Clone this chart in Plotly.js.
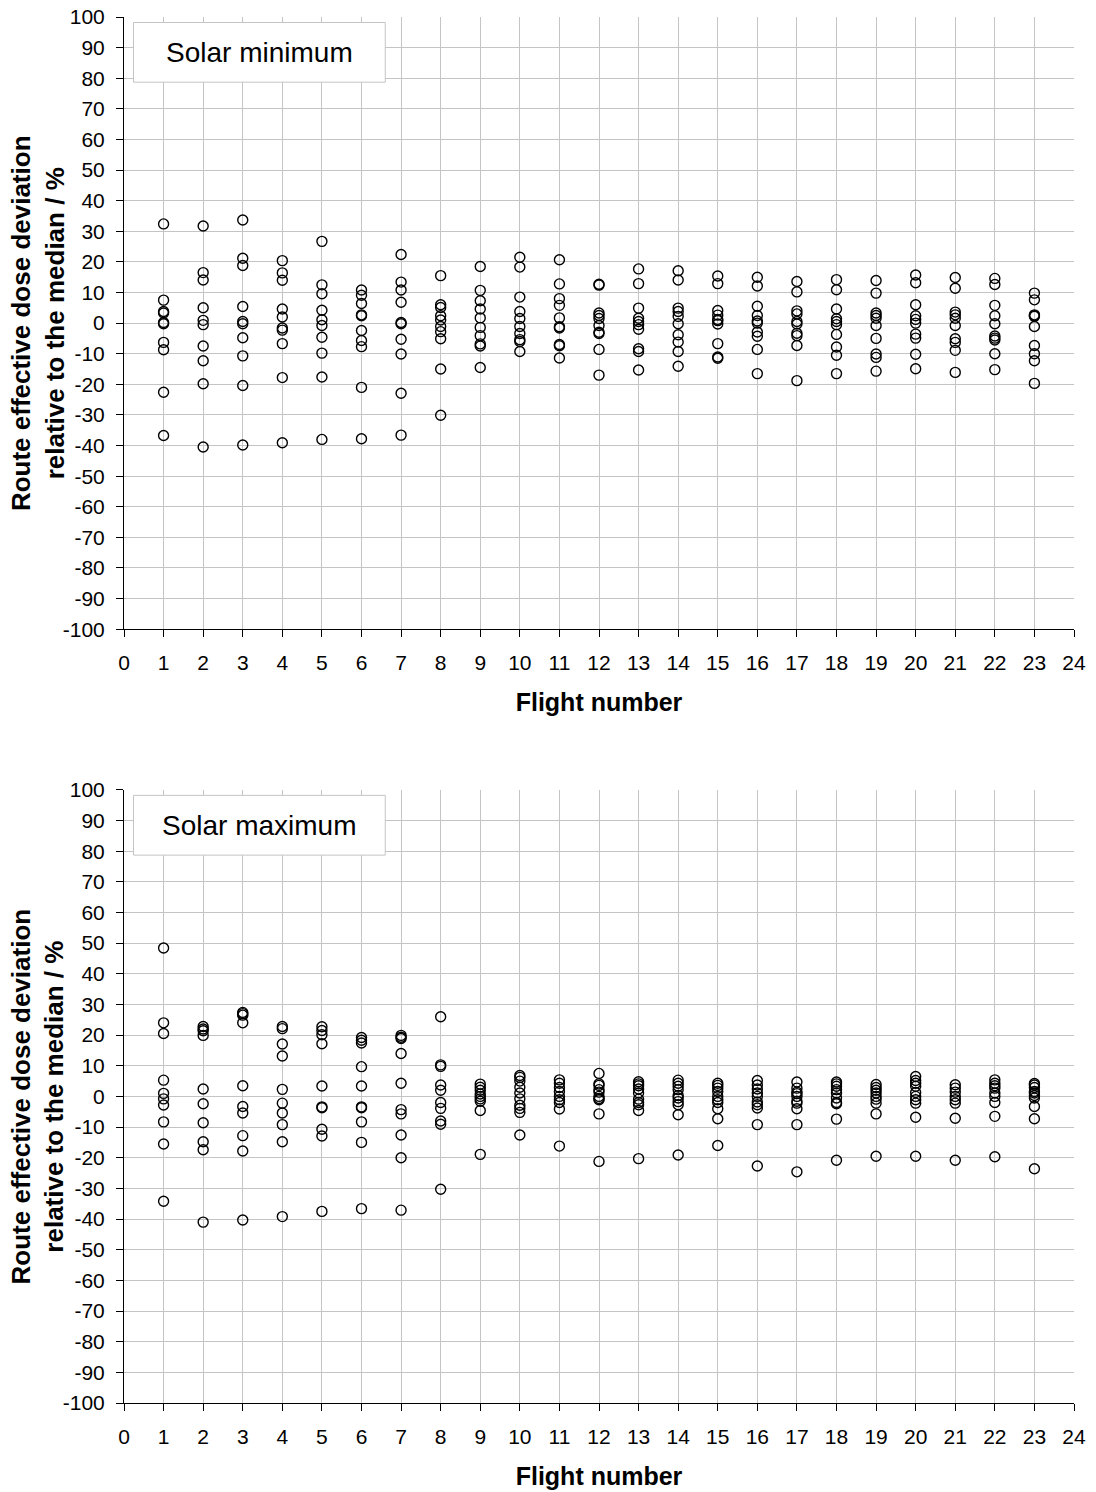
<!DOCTYPE html>
<html><head><meta charset="utf-8">
<script src="https://cdn.plot.ly/plotly-3.0.1.min.js"></script>
<style>html,body{margin:0;padding:0;background:#fff}#chart{width:1096px;height:1492px}</style>
</head><body><div id="chart"></div>
<script>
// Flight numbers
const flights = [1,2,3,4,5,6,7,8,9,10,11,12,13,14,15,16,17,18,19,20,21,22,23];

// Solar minimum: deviations (%) per flight
const solarMin = [
  [32.4, 7.5, 3.8, 3.3, 0.2, -0.2, -6.3, -8.7, -22.6, -36.7],
  [31.7, 16.5, 14.1, 5.0, 0.9, -0.5, -7.5, -12.3, -19.8, -40.5],
  [33.7, 21.2, 18.8, 5.4, 0.5, -0.2, -4.8, -10.7, -20.4, -39.8],
  [20.4, 16.4, 14.0, 4.6, 2.0, -1.6, -2.3, -6.7, -17.8, -39.1],
  [26.7, 12.5, 9.6, 4.2, 1.1, -0.8, -4.6, -9.8, -17.6, -38.0],
  [10.8, 9.1, 6.4, 2.7, 2.4, -2.4, -5.7, -7.7, -21.0, -37.8],
  [22.4, 13.4, 10.8, 6.8, 0.2, -0.2, -5.3, -10.1, -22.9, -36.6],
  [15.5, 6.0, 5.1, 2.4, 1.0, -1.1, -2.8, -5.1, -15.0, -30.1],
  [18.5, 10.7, 7.3, 4.6, 1.7, -1.4, -4.1, -6.8, -7.5, -14.5],
  [21.5, 18.3, 8.5, 3.8, 1.5, -1.1, -3.4, -5.4, -6.0, -9.3],
  [20.7, 12.8, 8.0, 5.8, 1.7, -1.2, -1.6, -7.0, -7.4, -11.4],
  [12.7, 12.4, 3.3, 2.5, 1.5, -0.8, -3.0, -3.4, -8.6, -17.0],
  [17.7, 12.9, 4.9, 1.6, 0.5, -0.5, -2.0, -8.4, -9.3, -15.3],
  [17.1, 14.1, 4.9, 3.8, 2.2, -0.2, -3.8, -6.2, -9.3, -14.1],
  [15.4, 12.9, 4.1, 2.6, 1.2, 0.8, -0.3, -6.7, -11.1, -11.5],
  [15.0, 12.1, 5.5, 2.5, 0.7, 0.0, -2.9, -4.3, -8.6, -16.5],
  [13.6, 10.2, 4.0, 3.0, 0.5, -0.3, -3.3, -4.1, -7.3, -18.8],
  [14.2, 10.9, 4.6, 1.4, 0.5, -0.5, -3.7, -7.8, -10.5, -16.5],
  [13.9, 9.8, 3.3, 2.5, 1.6, -0.8, -5.0, -10.1, -11.2, -15.7],
  [15.7, 13.2, 6.0, 2.4, 1.2, 0.0, -3.6, -4.9, -10.2, -14.9],
  [14.9, 11.4, 3.6, 2.7, 1.6, -0.8, -5.1, -6.3, -8.9, -16.1],
  [14.6, 12.6, 5.8, 2.4, -0.2, -4.2, -4.9, -5.5, -10.0, -15.2],
  [9.8, 7.6, 2.7, 2.4, 2.2, -1.1, -7.3, -10.0, -12.3, -19.7]
];

// Solar maximum: deviations (%) per flight
const solarMax = [
  [48.4, 24.0, 20.5, 5.3, 1.0, -0.8, -2.8, -8.3, -15.5, -34.2],
  [22.8, 22.0, 21.4, 19.9, 2.4, -2.4, -8.6, -14.8, -17.4, -41.0],
  [27.4, 27.0, 26.5, 24.0, 3.5, -3.3, -5.4, -12.8, -17.8, -40.3],
  [22.8, 22.1, 17.1, 13.2, 2.3, -2.2, -5.4, -9.2, -14.8, -39.2],
  [22.7, 21.5, 20.1, 17.2, 3.4, -3.4, -3.7, -10.7, -12.9, -37.5],
  [19.2, 18.3, 17.4, 9.7, 3.4, -3.4, -3.7, -8.3, -15.0, -36.6],
  [19.9, 19.3, 18.9, 14.0, 4.3, -4.3, -5.7, -12.6, -20.0, -37.1],
  [26.0, 10.3, 9.8, 3.7, 2.0, -2.0, -3.9, -8.0, -9.1, -30.3],
  [4.0, 3.0, 2.0, 0.8, 0.0, -0.8, -1.6, -4.6, -18.9],
  [6.8, 6.2, 5.0, 3.0, 1.1, -0.8, -2.9, -3.9, -5.2, -12.6],
  [5.4, 4.3, 2.9, 1.6, 0.0, -1.1, -2.0, -4.1, -16.2],
  [7.5, 4.1, 3.6, 2.2, 1.4, 0.0, -0.7, -1.1, -5.7, -21.2],
  [4.8, 4.1, 3.5, 2.4, 1.1, -0.9, -2.0, -2.7, -4.6, -20.3],
  [5.3, 4.3, 3.3, 2.2, 0.3, -0.5, -1.7, -2.7, -6.0, -19.1],
  [4.3, 3.6, 2.7, 1.6, 0.0, -1.1, -2.0, -4.0, -7.3, -16.0],
  [5.2, 3.7, 2.4, 1.1, 0.0, -1.8, -2.7, -3.8, -9.2, -22.7],
  [4.7, 2.7, 1.4, 0.9, 0.0, -1.6, -2.2, -4.0, -9.2, -24.6],
  [4.7, 4.1, 3.3, 2.2, 1.1, -0.5, -2.0, -2.4, -7.4, -20.8],
  [3.9, 2.9, 2.0, 1.1, 0.0, -0.9, -2.2, -5.7, -19.5],
  [6.5, 5.2, 4.3, 3.3, 1.3, 0.0, -1.1, -2.2, -6.8, -19.5],
  [3.8, 2.7, 1.4, 0.0, -1.1, -2.2, -7.1, -20.8],
  [5.4, 4.3, 3.5, 2.7, 1.1, 0.0, -2.0, -6.5, -19.7],
  [4.2, 3.7, 2.9, 1.6, 1.1, 0.3, -0.5, -3.3, -7.3, -23.6]
];

// Axis tick values and labels (hyphen-minus as in the original)
const yTickVals = [-100,-90,-80,-70,-60,-50,-40,-30,-20,-10,0,10,20,30,40,50,60,70,80,90,100];
const yTickLabels = ["-100","-90","-80","-70","-60","-50","-40","-30","-20","-10","0","10","20","30","40","50","60","70","80","90","100"];
const xTickVals = [0,1,2,3,4,5,6,7,8,9,10,11,12,13,14,15,16,17,18,19,20,21,22,23,24];
const xTickLabels = ["0","1","2","3","4","5","6","7","8","9","10","11","12","13","14","15","16","17","18","19","20","21","22","23","24"];

const panelLabels = ["Solar minimum", "Solar maximum"];
const xTitle = "Flight number";
const yTitle = "Route effective dose deviation<br>relative to the median / %";

function flatten(groups) {
  const xs = [], ys = [];
  groups.forEach((vals, i) => vals.forEach(v => { xs.push(flights[i]); ys.push(v); }));
  return {xs, ys};
}
const a = flatten(solarMin), b = flatten(solarMax);

const marker = {symbol: 'circle-open', size: 10, color: '#000', line: {width: 1.4, color: '#000'}};
const traces = [
  {x: a.xs, y: a.ys, xaxis: 'x', yaxis: 'y', type: 'scatter', mode: 'markers', marker: marker, name: panelLabels[0], hoverinfo: 'x+y'},
  {x: b.xs, y: b.ys, xaxis: 'x2', yaxis: 'y2', type: 'scatter', mode: 'markers', marker: marker, name: panelLabels[1], hoverinfo: 'x+y'}
];

const fontFam = 'Liberation Sans, Arial, sans-serif';
function xax(anchor) {
  return {
    anchor: anchor, range: [0, 24], tickmode: 'array', tickvals: xTickVals, ticktext: xTickLabels,
    showgrid: true, gridcolor: '#c4c4c4', gridwidth: 1, zeroline: false,
    showline: true, linecolor: '#000', linewidth: 1,
    ticks: 'outside', ticklen: 7, tickcolor: '#000', tickwidth: 1,
    ticklabelstandoff: 8,
    tickfont: {family: fontFam, size: 21, color: '#000'},
    title: {text: '<b>' + xTitle + '</b>', font: {family: fontFam, size: 25, color: '#000'}, standoff: 20},
    automargin: false, fixedrange: true
  };
}
function yax(anchor, domain) {
  return {
    anchor: anchor, domain: domain, range: [-100, 100], tickmode: 'array', tickvals: yTickVals, ticktext: yTickLabels,
    showgrid: true, gridcolor: '#c4c4c4', gridwidth: 1, zeroline: false,
    showline: true, linecolor: '#000', linewidth: 1,
    ticks: 'outside', ticklen: 7, tickcolor: '#000', tickwidth: 1,
    ticklabelstandoff: 7,
    tickfont: {family: fontFam, size: 21, color: '#000'},
    automargin: false, fixedrange: true
  };
}

const boxLine = {color: '#c4c4c4', width: 1};
const titleFont = {family: fontFam, size: 26, color: '#000'};
const layout = {
  width: 1096, height: 1492,
  margin: {l: 124, r: 22, t: 17, b: 89},
  paper_bgcolor: '#fff', plot_bgcolor: '#fff',
  showlegend: false,
  font: {family: fontFam, color: '#000'},
  xaxis: xax('y'),
  yaxis: yax('x', [0.5583, 1]),
  xaxis2: xax('y2'),
  yaxis2: yax('x2', [0, 0.4424]),
  shapes: [
    {type: 'rect', xref: 'x', yref: 'y', x0: 0.24, x1: 6.6, y0: 78.7, y1: 98.2, line: boxLine, fillcolor: '#fff', layer: 'above'},
    {type: 'rect', xref: 'x2', yref: 'y2', x0: 0.24, x1: 6.6, y0: 78.7, y1: 98.2, line: boxLine, fillcolor: '#fff', layer: 'above'}
  ],
  annotations: [
    {xref: 'x', yref: 'y', x: 3.42, y: 88.5, text: panelLabels[0], showarrow: false, font: {family: fontFam, size: 28, color: '#000'}},
    {xref: 'x2', yref: 'y2', x: 3.42, y: 88.5, text: panelLabels[1], showarrow: false, font: {family: fontFam, size: 28, color: '#000'}},
    {xref: 'paper', yref: 'y domain', x: -0.0905, y: 0.5, xanchor: 'center', yanchor: 'middle', textangle: -90,
     text: '<b>' + yTitle + '</b>', showarrow: false, font: titleFont},
    {xref: 'paper', yref: 'y2 domain', x: -0.0905, y: 0.5, xanchor: 'center', yanchor: 'middle', textangle: -90,
     text: '<b>' + yTitle + '</b>', showarrow: false, font: titleFont}
  ]
};

Plotly.newPlot('chart', traces, layout, {staticPlot: true, displayModeBar: false});
</script>
</body></html>
